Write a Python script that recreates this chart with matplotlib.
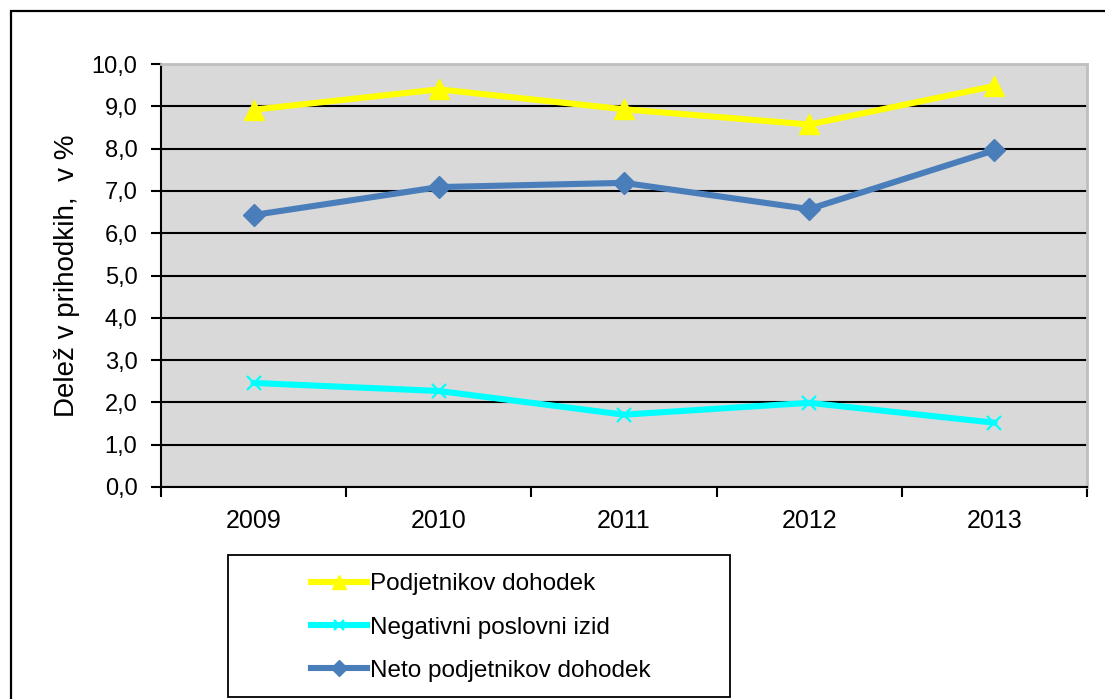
import numpy as np
import matplotlib.pyplot as plt
from matplotlib.patches import Rectangle
from matplotlib.ticker import FuncFormatter, FixedLocator

plt.rcParams['font.family'] = ['Liberation Sans', 'DejaVu Sans']

# podatki odčitani s slike
leta = ['2009', '2010', '2011', '2012', '2013']
podjetnikov_dohodek = [8.92, 9.40, 8.93, 8.57, 9.48]
negativni_izid = [2.46, 2.27, 1.71, 1.99, 1.52]
neto_dohodek = [6.43, 7.09, 7.19, 6.57, 7.96]

fig = plt.figure(figsize=(11.05, 6.99), dpi=100)
ax = fig.add_axes([161/1105, 1 - 487/699, 926/1105, 423/699])
ax.set_facecolor('#d9d9d9')

x = np.arange(len(leta))
ax.plot(x, podjetnikov_dohodek, color='#ffff00', lw=4.4, marker='^', ms=14,
        label='Podjetnikov dohodek', zorder=4)
ax.plot(x, negativni_izid, color='#00ffff', lw=4.4, marker='x', ms=10, mew=1.6,
        label='Negativni poslovni izid', zorder=4)
ax.plot(x, neto_dohodek, color='#4a7ebb', lw=4.4, marker='D', ms=11,
        label='Neto podjetnikov dohodek', zorder=4)

ax.set_xlim(-0.5, len(leta) - 0.5)
ax.set_ylim(0, 10)
ax.set_yticks(np.arange(0, 11, 1))
ax.yaxis.set_major_formatter(FuncFormatter(lambda v, p: '{:.1f}'.format(v).replace('.', ',')))
ax.grid(axis='y', color='black', lw=1.5, zorder=1)
ax.set_axisbelow(True)

# kljukice med kategorijami, napisi na sredini
ax.xaxis.set_major_locator(FixedLocator(np.arange(-0.5, len(leta), 1)))
ax.xaxis.set_major_formatter(FuncFormatter(lambda v, p: ''))
ax.xaxis.set_minor_locator(FixedLocator(x))
ax.set_xticklabels(leta, minor=True)
ax.tick_params(axis='x', which='major', length=7, width=1.5, direction='out')
ax.tick_params(axis='x', which='minor', length=0, pad=16, labelsize=18)
ax.tick_params(axis='y', length=7, width=1.5, direction='out', pad=10, labelsize=17)

ax.set_ylabel('Delež v prihodkih,  v %', fontsize=20, labelpad=8)

for s in ['left', 'bottom']:
    ax.spines[s].set_color('black')
    ax.spines[s].set_linewidth(1.5)
for s in ['top', 'right']:
    ax.spines[s].set_color('#bfbfbf')
    ax.spines[s].set_linewidth(2)

# okvir celotnega grafikona
fig.patches.append(Rectangle((11/1105, -0.1), 1.2, 1 - 11/699 + 0.1,
                             transform=fig.transFigure, fill=False,
                             edgecolor='black', lw=1.6))

# okvir legende
fig.patches.append(Rectangle((228/1105, 2/699), 502/1105, 142/699,
                             transform=fig.transFigure, fill=False,
                             edgecolor='black', lw=1.3))
fig.legend(loc='upper left', bbox_to_anchor=(299/1105, 1 - 561/699),
           frameon=False, fontsize=17.5, handlelength=2.3, handletextpad=0.12,
           labelspacing=0.88, borderpad=0, markerscale=0.75)

fig.savefig('out.png', dpi=100)
